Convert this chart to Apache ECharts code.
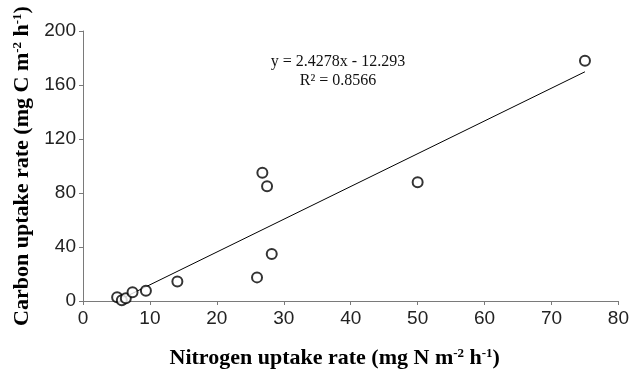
<!DOCTYPE html>
<html>
<head>
<meta charset="utf-8">
<script src="https://cdn.jsdelivr.net/npm/echarts@6/dist/echarts.min.js"></script>
<style>
  html, body { margin: 0; padding: 0; background: #fff; }
  #chart { width: 632px; height: 374px; }
</style>
</head>
<body>
<div id="chart"></div>
<script>
// nitrogen vs carbon uptake
const nUptake = [5.1, 5.8, 6.4, 7.4, 9.4, 14.1, 26.0, 26.8, 27.5, 28.2, 50.0, 75.0]
const cUptake = [2.8, 0.5, 2.0, 6.4, 7.6, 14.4, 17.5, 95.0, 85.0, 34.8, 88.0, 178.0]

// linear trendline ends (y = 2.4278x - 12.293)
const trendX = [5.1, 75.0]
const trendY = [0.1, 169.8]

const eqText = ['y = 2.4278x - 12.293', 'R² = 0.8566']

const serif = '"Liberation Serif", "Times New Roman", serif'
const sans = '"Liberation Sans", Arial, sans-serif'

const titleRich = {
  t: { fontFamily: serif, fontWeight: 'bold', fontSize: 22, color: '#000' },
  s: { fontFamily: serif, fontWeight: 'bold', fontSize: 13, color: '#000', verticalAlign: 'top', padding: [0, 0, 9, 0] }
}

const points = nUptake.map((x, i) => [x, cUptake[i]])
const trend = trendX.map((x, i) => [x, trendY[i]])

const option = {
  animation: false,
  backgroundColor: '#fff',
  grid: { left: 83, right: 13, top: 31, bottom: 61 },
  xAxis: {
    type: 'value',
    min: 0,
    max: 80,
    interval: 10,
    name: '{t|Nitrogen uptake rate (mg N m}{s|-2}{t| h}{s|-1}{t|)}',
    nameLocation: 'middle',
    nameGap: 46,
    // title sits a bit left of the plot centre
    nameTextStyle: { rich: titleRich, padding: [0, 32, 0, 0] },
    axisLine: { lineStyle: { color: '#7a7a7a', width: 1 } },
    axisTick: { show: true, length: 4, lineStyle: { color: '#7a7a7a' } },
    axisLabel: { fontFamily: sans, fontSize: 19, color: '#222', margin: 8 },
    splitLine: { show: false }
  },
  yAxis: {
    type: 'value',
    min: 0,
    max: 200,
    interval: 40,
    name: '{t|Carbon uptake rate (mg C m}{s|-2}{t| h}{s|-1}{t|)}',
    nameLocation: 'middle',
    nameGap: 48,
    nameTextStyle: { rich: titleRich },
    axisLine: { show: true, lineStyle: { color: '#7a7a7a', width: 1 } },
    axisTick: { show: true, length: 4, lineStyle: { color: '#7a7a7a' } },
    axisLabel: { fontFamily: sans, fontSize: 19, color: '#222', margin: 7 },
    splitLine: { show: false }
  },
  graphic: [
    {
      type: 'text',
      x: 338,
      y: 62,
      style: { text: eqText[0], font: '16px ' + serif, fill: '#111', align: 'center', verticalAlign: 'middle' }
    },
    {
      type: 'text',
      x: 338,
      y: 81,
      style: { text: eqText[1], font: '16px ' + serif, fill: '#111', align: 'center', verticalAlign: 'middle' }
    }
  ],
  series: [
    {
      name: 'trend',
      type: 'line',
      data: trend,
      symbol: 'none',
      lineStyle: { color: '#000', width: 1 },
      z: 1
    },
    {
      name: 'uptake',
      type: 'scatter',
      data: points,
      symbol: 'circle',
      symbolSize: 10,
      itemStyle: { color: '#fff', borderColor: '#000', borderWidth: 2 },
      z: 2
    }
  ]
}

const chart = echarts.init(document.getElementById('chart'))
chart.setOption(option)
</script>
</body>
</html>
